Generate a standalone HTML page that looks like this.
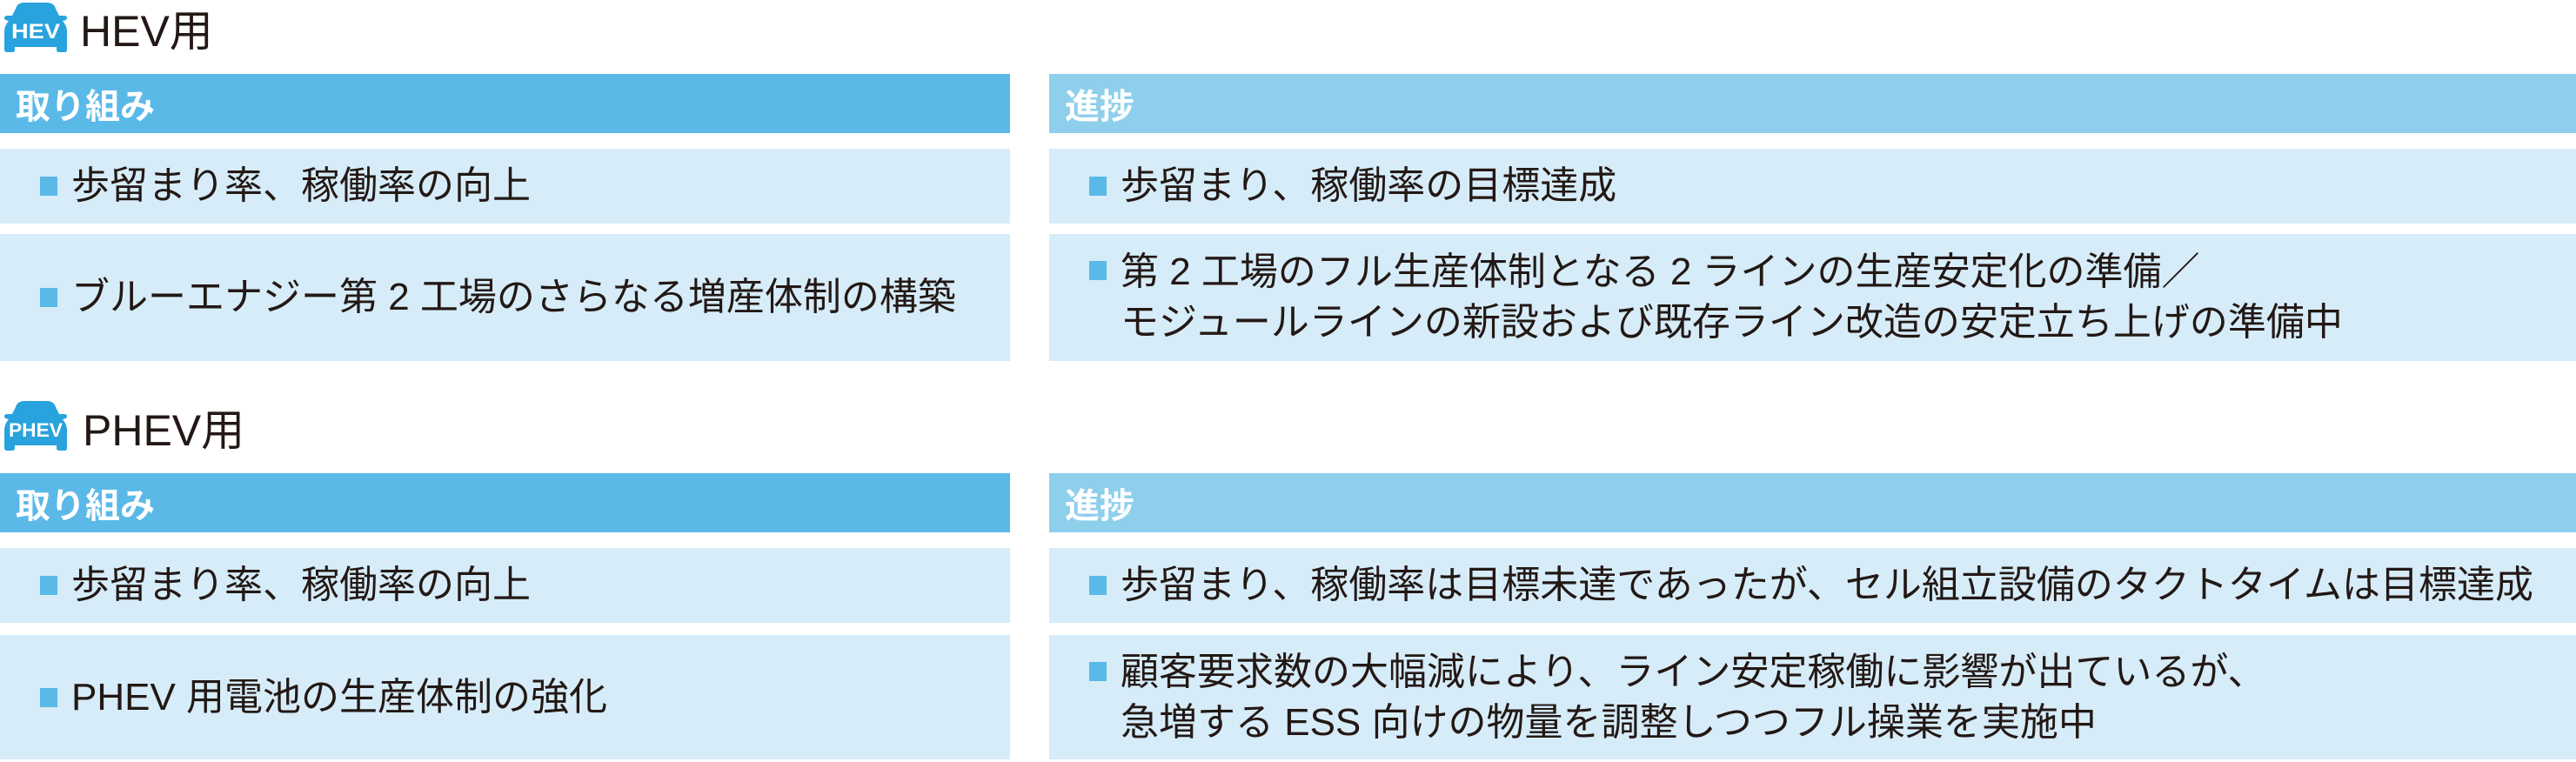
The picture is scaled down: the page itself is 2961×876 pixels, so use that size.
<!DOCTYPE html>
<html><head><meta charset="utf-8"><style>
body{margin:0;width:2961px;height:876px;background:#fff;position:relative;overflow:hidden;font-family:"Liberation Sans","Noto Sans CJK JP",sans-serif;color:#231815}
.a{position:absolute;box-sizing:border-box}
.hl{background:#5bb9e8;color:#fff;font-size:40px;font-weight:bold;display:flex;align-items:center;padding-left:18px}
.hr{background:#8ecfec;color:#fff;font-size:40px;font-weight:bold;display:flex;align-items:center;padding-left:18px}
.r{background:#d6ecf8;font-size:44px;display:flex;align-items:center;line-height:58px}
.r .b{display:inline-block;width:20px;height:22px;background:#5bb9e8;margin-right:16px;flex:none;align-self:flex-start;margin-top:31px}
.r.c .b{align-self:center;margin-top:0}
.title{font-size:50px;display:flex;align-items:center}
</style></head><body>

<svg class="a" style="left:4px;top:2px" width="74" height="58" viewBox="0 0 74 58"><path d="M14 8 Q16 1 24 1 H50 Q58 1 60 8 L64 16 H70 Q73 16 73 19 Q73 21 68 22 Q73 28 73 34 V55 Q73 58 70 58 H64 Q61 58 61 55 V52 H13 V55 Q13 58 10 58 H4 Q1 58 1 55 V34 Q1 28 6 22 Q1 21 1 19 Q1 16 4 16 H10 Z" fill="#29a3dd"/><text x="37" y="42" font-family="Liberation Sans" font-weight="bold" font-size="24" fill="#fff" text-anchor="middle" textLength="56" lengthAdjust="spacingAndGlyphs">HEV</text></svg>
<div class="a title" style="left:92px;top:4px;height:56px">HEV用</div>

<div class="a hl" style="left:0;top:85px;width:1161px;height:68px">取り組み</div>
<div class="a hr" style="left:1206px;top:85px;width:1755px;height:68px">進捗</div>
<div class="a r c" style="left:0;top:171px;width:1161px;height:86px;padding-left:46px"><span class="b"></span>歩留まり率、稼働率の向上</div>
<div class="a r c" style="left:1206px;top:171px;width:1755px;height:86px;padding-left:46px"><span class="b"></span>歩留まり、稼働率の目標達成</div>
<div class="a r c" style="left:0;top:269px;width:1161px;height:146px;padding-left:46px"><span class="b"></span>ブルーエナジー第 2 工場のさらなる増産体制の構築</div>
<div class="a r" style="left:1206px;top:269px;width:1755px;height:146px;padding-left:46px"><span class="b"></span><div>第 2 工場のフル生産体制となる 2 ラインの生産安定化の準備／<br>モジュールラインの新設および既存ライン改造の安定立ち上げの準備中</div></div>

<svg class="a" style="left:4px;top:460px" width="74" height="58" viewBox="0 0 74 58"><path d="M14 8 Q16 1 24 1 H50 Q58 1 60 8 L64 16 H70 Q73 16 73 19 Q73 21 68 22 Q73 28 73 34 V55 Q73 58 70 58 H64 Q61 58 61 55 V52 H13 V55 Q13 58 10 58 H4 Q1 58 1 55 V34 Q1 28 6 22 Q1 21 1 19 Q1 16 4 16 H10 Z" fill="#29a3dd"/><text x="37" y="42" font-family="Liberation Sans" font-weight="bold" font-size="22" fill="#fff" text-anchor="middle" textLength="62" lengthAdjust="spacingAndGlyphs">PHEV</text></svg>
<div class="a title" style="left:95px;top:463px;height:56px">PHEV用</div>

<div class="a hl" style="left:0;top:544px;width:1161px;height:68px">取り組み</div>
<div class="a hr" style="left:1206px;top:544px;width:1755px;height:68px">進捗</div>
<div class="a r c" style="left:0;top:630px;width:1161px;height:86px;padding-left:46px"><span class="b"></span>歩留まり率、稼働率の向上</div>
<div class="a r c" style="left:1206px;top:630px;width:1755px;height:86px;padding-left:46px"><span class="b"></span>歩留まり、稼働率は目標未達であったが、セル組立設備のタクトタイムは目標達成</div>
<div class="a r c" style="left:0;top:730px;width:1161px;height:143px;padding-left:46px"><span class="b"></span>PHEV 用電池の生産体制の強化</div>
<div class="a r" style="left:1206px;top:730px;width:1755px;height:143px;padding-left:46px"><span class="b"></span><div>顧客要求数の大幅減により、ライン安定稼働に影響が出ているが、<br>急増する ESS 向けの物量を調整しつつフル操業を実施中</div></div>
</body></html>
